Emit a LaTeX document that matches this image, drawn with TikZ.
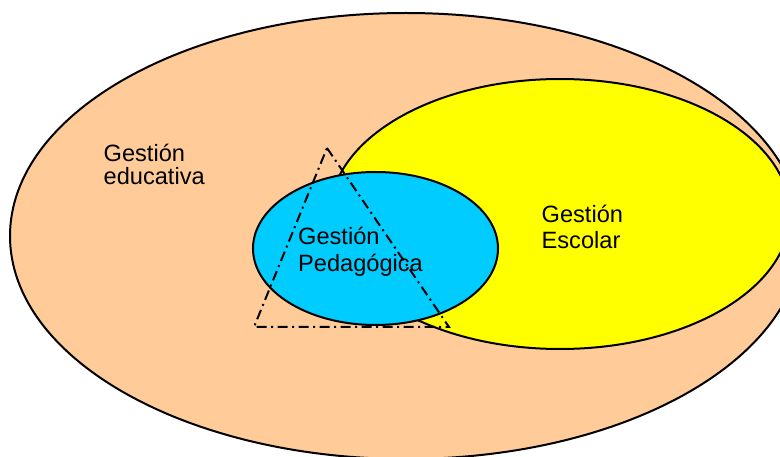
\documentclass[tikz,border=0pt]{standalone}
\usepackage{fontspec}
\setmainfont{Liberation Sans}
\usetikzlibrary{shapes.geometric}
\definecolor{peach}{RGB}{255,204,153}
\definecolor{sunyellow}{RGB}{255,255,0}
\definecolor{skyblue}{RGB}{0,204,255}
\begin{document}
\begin{tikzpicture}[x=1pt,y=-1pt,
  area/.style={ellipse, draw=black, line width=2pt, inner sep=0pt, outer sep=0pt},
  txt/.style={anchor=base west, inner sep=0pt, align=left},
  dashdot/.style={line width=2pt, dash pattern=on 10pt off 4.5pt on 2pt off 4.5pt}]
\useasboundingbox (0,0) rectangle (780,457);
\clip (0,0) rectangle (780,457);
% nested areas
\node[area, fill=peach, minimum width=792pt, minimum height=446pt] (educ) at (406,236) {};
\node[area, fill=sunyellow, minimum width=460pt, minimum height=270pt] (esc) at (560,214) {};
\node[area, fill=skyblue, minimum width=245pt, minimum height=153pt] (ped) at (375.5,248.5) {};
% dash-dotted triangle
\coordinate (apex) at (327,148);
\coordinate (bl) at (254,327);
\coordinate (br) at (449,327);
\draw[dashdot] (apex) -- (br) -- (bl) -- cycle;
% labels (anchored at the baseline of their last line)
\node[txt, font=\fontsize{23.6}{23.3}\selectfont] (leduc) at (103.5,185) {Gestión\\educativa};
\node[txt, font=\fontsize{23.6}{25.6}\selectfont] (lesc) at (541.5,248.3) {Gestión\\Escolar};
\node[txt, font=\fontsize{23.6}{26.7}\selectfont] (lped) at (298,271.7) {Gestión\\Pedagógica};
\end{tikzpicture}
\end{document}
